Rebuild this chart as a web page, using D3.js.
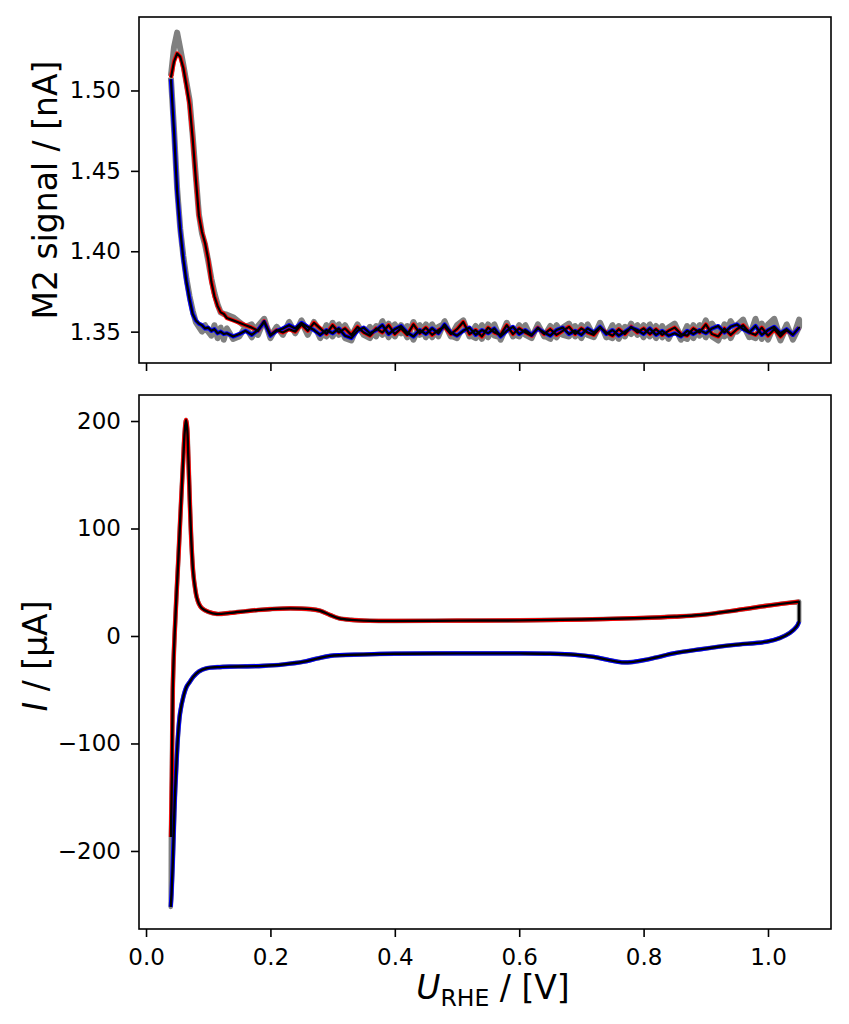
<!DOCTYPE html>
<html><head><meta charset="utf-8">
<script src="https://cdn.jsdelivr.net/npm/d3@7"></script>
<style>body{margin:0;background:#fff} svg{display:block} text{font-family:"DejaVu Sans",sans-serif}</style>
</head><body><svg id="c" width="849" height="1024"></svg>
<script>
// ---------- Top panel: M2 signal / nA vs U_RHE ----------
const potentialsTop = [
0.040,0.045,0.050,0.055,0.060,0.065,0.070,0.075,0.080,0.085,
0.090,0.095,0.100,0.105,0.110,0.115,0.120,0.125,
0.13,0.14,0.15,0.16,0.17,0.18,0.19,0.20,0.21,0.22,
0.23,0.24,0.25,0.26,0.27,0.28,0.29,0.30,0.31,0.32,
0.33,0.34,0.35,0.36,0.37,0.38,0.39,0.40,0.41,0.42,
0.43,0.44,0.45,0.46,0.47,0.48,0.49,0.50,0.51,0.52,
0.53,0.54,0.55,0.56,0.57,0.58,0.59,0.60,0.61,0.62,
0.63,0.64,0.65,0.66,0.67,0.68,0.69,0.70,0.71,0.72,
0.73,0.74,0.75,0.76,0.77,0.78,0.79,0.80,0.81,0.82,
0.83,0.84,0.85,0.86,0.87,0.88,0.89,0.90,0.91,0.92,
0.93,0.94,0.95,0.96,0.97,0.98,0.99,1.00,1.01,1.02,
1.03,1.04,1.05];
const m2Anodic = [
1.508,1.518,1.523,1.521,1.514,1.503,1.491,1.470,1.445,1.422,
1.412,1.405,1.395,1.381,1.372,1.366,1.362,1.361,
1.3585,1.3570,1.3555,1.3540,1.3525,1.3505,1.3565,1.3480,1.3510,1.3495,
1.3515,1.3500,1.3545,1.3505,1.3555,1.3520,1.3485,1.3540,1.3495,1.3520,
1.3480,1.3530,1.3495,1.3475,1.3520,1.3495,1.3540,1.3485,1.3520,1.3480,
1.3545,1.3490,1.3525,1.3480,1.3510,1.3530,1.3485,1.3515,1.3560,1.3485,
1.3510,1.3470,1.3525,1.3495,1.3480,1.3540,1.3485,1.3520,1.3495,1.3475,
1.3525,1.3485,1.3515,1.3480,1.3505,1.3530,1.3485,1.3520,1.3495,1.3480,
1.3525,1.3495,1.3475,1.3515,1.3485,1.3530,1.3495,1.3520,1.3485,1.3515,
1.3480,1.3505,1.3525,1.3485,1.3475,1.3520,1.3495,1.3545,1.3485,1.3470,
1.3520,1.3480,1.3515,1.3540,1.3495,1.3480,1.3525,1.3475,1.3515,1.3470,
1.3510,1.3480,1.3525];
const m2Cathodic = [
1.507,1.474,1.437,1.413,1.395,1.381,1.370,1.361,1.357,1.355,
1.354,1.352,1.3525,1.3505,1.3515,1.3490,1.3500,1.3485,
1.3490,1.3470,1.3485,1.3505,1.3480,1.3510,1.3560,1.3475,1.3505,1.3520,
1.3540,1.3520,1.3555,1.3530,1.3510,1.3480,1.3510,1.3490,1.3520,1.3475,
1.3460,1.3505,1.3525,1.3490,1.3510,1.3540,1.3485,1.3515,1.3535,1.3495,
1.3470,1.3510,1.3485,1.3520,1.3490,1.3545,1.3495,1.3475,1.3505,1.3525,
1.3480,1.3510,1.3490,1.3520,1.3470,1.3505,1.3530,1.3485,1.3510,1.3480,
1.3520,1.3495,1.3475,1.3510,1.3525,1.3485,1.3505,1.3480,1.3520,1.3495,
1.3530,1.3485,1.3510,1.3475,1.3500,1.3525,1.3510,1.3485,1.3520,1.3480,
1.3505,1.3475,1.3490,1.3470,1.3505,1.3485,1.3510,1.3490,1.3520,1.3535,
1.3495,1.3530,1.3545,1.3515,1.3495,1.3535,1.3480,1.3510,1.3530,1.3490,
1.3515,1.3480,1.3525];
const m2CycleAnodic = [
1.509,1.527,1.536,1.526,1.516,1.505,1.494,1.472,1.447,1.423,
1.411,1.404,1.394,1.383,1.374,1.367,1.362,1.361,
1.3605,1.3590,1.3560,1.3530,1.3545,1.3480,1.3575,1.3470,1.3530,1.3485,
1.3540,1.3500,1.3560,1.3480,1.3560,1.3500,1.3470,1.3555,1.3480,1.3540,
1.3470,1.3545,1.3480,1.3460,1.3535,1.3480,1.3550,1.3470,1.3540,1.3465,
1.3560,1.3480,1.3545,1.3465,1.3530,1.3550,1.3470,1.3540,1.3570,1.3470,
1.3535,1.3455,1.3545,1.3475,1.3465,1.3555,1.3470,1.3540,1.3480,1.3460,
1.3545,1.3470,1.3535,1.3465,1.3525,1.3550,1.3470,1.3540,1.3480,1.3465,
1.3545,1.3475,1.3460,1.3535,1.3470,1.3550,1.3480,1.3540,1.3470,1.3535,
1.3465,1.3525,1.3550,1.3470,1.3455,1.3540,1.3475,1.3570,1.3470,1.3445,
1.3545,1.3460,1.3540,1.3575,1.3475,1.3460,1.3550,1.3450,1.3540,1.3445,
1.3530,1.3460,1.3575];
const m2CycleCathodic = [
1.508,1.476,1.439,1.414,1.397,1.383,1.372,1.363,1.356,1.353,
1.350,1.354,1.350,1.3475,1.3540,1.3460,1.3525,1.3450,
1.3520,1.3455,1.3470,1.3530,1.3465,1.3535,1.3580,1.3460,1.3530,1.3480,
1.3560,1.3490,1.3570,1.3495,1.3545,1.3460,1.3540,1.3470,1.3545,1.3460,
1.3445,1.3535,1.3480,1.3530,1.3470,1.3565,1.3465,1.3545,1.3490,1.3535,
1.3450,1.3540,1.3465,1.3545,1.3470,1.3565,1.3475,1.3460,1.3535,1.3480,
1.3460,1.3540,1.3465,1.3545,1.3450,1.3535,1.3485,1.3470,1.3540,1.3460,
1.3545,1.3475,1.3455,1.3540,1.3480,1.3470,1.3535,1.3460,1.3545,1.3470,
1.3555,1.3465,1.3540,1.3455,1.3530,1.3485,1.3540,1.3465,1.3545,1.3460,
1.3535,1.3455,1.3530,1.3450,1.3535,1.3460,1.3540,1.3465,1.3550,1.3490,
1.3470,1.3565,1.3500,1.3540,1.3465,1.3580,1.3455,1.3545,1.3580,1.3460,
1.3545,1.3450,1.3530];

// ---------- Bottom panel: current / µA vs U_RHE ----------
const cvAnodicU = [0.0400,0.0415,0.0430,0.0450,0.0470,0.0494,0.0520,0.0547,0.0575,0.0600,
  0.0622,0.0643,0.0662,0.0680,0.0707,0.0732,0.0760,0.0790,0.0815,0.0850,
  0.0895,0.100,0.114,0.135,0.160,0.180,0.200,0.232,0.264,0.280,
  0.296,0.310,0.330,0.360,0.400,0.500,0.600,0.700,0.800,0.850,
  0.891,0.950,1.000,1.050];
const cvAnodicI = [-187,-130,-50,-12,14,43,72,105,138,167,
  190,201,193,167,120,84,58,44,36,30,
  26,22.5,20.5,21.5,23,24.2,25,25.7,25,23.5,
  19.5,16.5,15,14.2,14,14.3,14.5,15.3,16.8,18,
  19.5,24,28.3,32];
const cvCathodicU = [1.050,1.046,1.035,1.019,0.998,0.944,0.891,0.850,0.820,0.800,
  0.780,0.765,0.745,0.720,0.690,0.650,0.600,0.500,0.400,0.350,
  0.296,0.275,0.253,0.220,0.188,0.160,0.135,0.115,0.0975,0.085,
  0.076,0.0700,0.0654,0.0600,0.0547,0.0515,0.0490,0.0470,0.0455,0.0430,
  0.0410,0.0397];
const cvCathodicI = [13.3,8.7,2.8,-1.9,-5.3,-8.4,-12.4,-16,-20,-22.5,
  -24.3,-24.5,-22.5,-19.5,-17.5,-16.5,-16.2,-16.2,-16.5,-17.2,
  -18.5,-21,-24,-26.5,-27.8,-28.3,-28.5,-29,-30,-33,
  -38,-43,-47,-56.5,-72,-92,-118,-142,-165,-211,
  -240,-252];

const xTicks = [0.0,0.2,0.4,0.6,0.8,1.0];
const yTopTicks = [1.35,1.40,1.45,1.50];
const yBotTicks = [-200,-100,0,100,200];

// ---------- drawing ----------
const svg = d3.select('#c');
const L = 139, R = 831;
const top1 = 17, bot1 = 363, top2 = 395, bot2 = 929;
const x = d3.scaleLinear().domain([-0.0113, 1.1013]).range([L, R]);
const yT = d3.scaleLinear().domain([1.3305, 1.5457]).range([bot1, top1]);
const yB = d3.scaleLinear().domain([-272.6, 224.2]).range([bot2, top2]);

const defs = svg.append('defs');
defs.append('clipPath').attr('id','clipT').append('rect').attr('x',L).attr('y',top1).attr('width',R-L).attr('height',bot1-top1);
defs.append('clipPath').attr('id','clipB').append('rect').attr('x',L).attr('y',top2).attr('width',R-L).attr('height',bot2-top2);

const pT = d3.zip(potentialsTop, m2Anodic);
const pTc = d3.zip(potentialsTop, m2Cathodic).reverse();
const gTa = d3.zip(potentialsTop, m2CycleAnodic);
const gTc = d3.zip(potentialsTop, m2CycleCathodic).reverse();
const lineT = d3.line().x(d=>x(d[0])).y(d=>yT(d[1]));

function draw(g, data, gen, color, w){
  g.append('path').datum(data).attr('d', gen).attr('fill','none')
   .attr('stroke', color).attr('stroke-width', w)
   .attr('stroke-linejoin','round').attr('stroke-linecap','butt');
}
function drawD(g, d, color, w){
  g.append('path').attr('d', d).attr('fill','none').attr('stroke', color)
   .attr('stroke-width', w).attr('stroke-linejoin','round').attr('stroke-linecap','butt');
}
const gt = svg.append('g').attr('clip-path','url(#clipT)');
draw(gt, gTa.concat(gTc), lineT, '#808080', 6);
draw(gt, pT, lineT, '#ff0000', 4.2);
draw(gt, pTc, lineT, '#0000ff', 4.2);
draw(gt, pT.concat(pTc), lineT, '#000000', 2.2);

const aB = d3.zip(cvAnodicU, cvAnodicI);
const cB = d3.zip(cvCathodicU, cvCathodicI);
const curveB = d3.line().x(d=>x(d[0])).y(d=>yB(d[1])).curve(d3.curveCatmullRom.alpha(0.5));
const pt = d => `${x(d[0])},${yB(d[1])}`;
// full cycle: smooth scans joined by straight segments at the vertex potentials
function cycleB(withClose){
  let d = curveB(aB) + 'L' + pt(cB[0]) + curveB(cB).replace(/^M/, 'L');
  if (withClose) d += 'L' + pt(aB[0]);
  return d;
}
const gb = svg.append('g').attr('clip-path','url(#clipB)');
drawD(gb, cycleB(true), '#808080', 4.6);
draw(gb, aB, curveB, '#ff0000', 4.2);
draw(gb, cB, curveB, '#0000ff', 4.2);
drawD(gb, cycleB(false), '#000000', 2.4);

// axes
function styleAxis(g){
  g.select('.domain').remove();
  g.selectAll('.tick line').attr('stroke','#000').attr('stroke-width',1.6);
  g.selectAll('.tick text').attr('fill','#000').style('font-size','23px').style('font-family','"DejaVu Sans",sans-serif');
}
svg.append('g').attr('transform',`translate(0,${bot1})`)
  .call(d3.axisBottom(x).tickValues(xTicks).tickSize(8).tickSizeOuter(0).tickFormat(''))
  .call(styleAxis);
svg.append('g').attr('transform',`translate(${L},0)`)
  .call(d3.axisLeft(yT).tickValues(yTopTicks).tickSize(8).tickSizeOuter(0).tickPadding(10).tickFormat(d3.format('.2f')))
  .call(styleAxis);
svg.append('g').attr('transform',`translate(0,${bot2})`)
  .call(d3.axisBottom(x).tickValues(xTicks).tickSize(8).tickSizeOuter(0).tickPadding(12).tickFormat(d3.format('.1f')))
  .call(styleAxis);
svg.append('g').attr('transform',`translate(${L},0)`)
  .call(d3.axisLeft(yB).tickValues(yBotTicks).tickSize(8).tickSizeOuter(0).tickPadding(10).tickFormat(d3.format('d')))
  .call(styleAxis);

// frames
[[top1,bot1],[top2,bot2]].forEach(([t,b])=>{
  svg.append('rect').attr('x',L).attr('y',t).attr('width',R-L).attr('height',b-t)
    .attr('fill','none').attr('stroke','#000').attr('stroke-width',1.6);
});

// labels
svg.append('text').attr('transform','translate(57,190) rotate(-90)')
  .attr('text-anchor','middle').style('font-size','33px').text('M2 signal / [nA]');
const yl = svg.append('text').attr('transform','translate(47,656) rotate(-90)')
  .attr('text-anchor','middle').style('font-size','33px');
yl.append('tspan').style('font-style','italic').text('I');
yl.append('tspan').text(' / [μA]');
const xl = svg.append('text').attr('x',493).attr('y',999).attr('text-anchor','middle').style('font-size','33px');
xl.append('tspan').style('font-style','italic').text('U');
xl.append('tspan').attr('dy',7).style('font-size','23.5px').text('RHE');
xl.append('tspan').attr('dy',-7).text(' / [V]');
</script>
</body></html>
